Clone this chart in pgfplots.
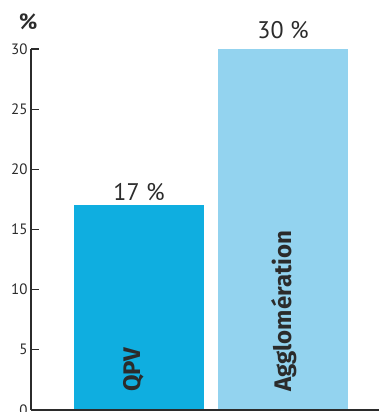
\documentclass[border=0pt]{standalone}
\usepackage{pgfplots}
\pgfplotsset{compat=1.18}
\usepackage{fontspec}
\setmainfont{PT Sans}
\newfontfamily\barfont{Fira Sans}[BoldFont={Fira Sans Bold}]
\definecolor{qpv}{HTML}{0FAEE0}
\definecolor{agglo}{HTML}{93D3EF}
\definecolor{ink}{HTML}{2B2B2B}
\tikzset{bar label/.style={rotate=90, anchor=west, inner sep=0pt, font=\barfont\bfseries\fontsize{24}{24}\selectfont, text=ink}}
\begin{document}
\begin{tikzpicture}
\path[use as bounding box] (-31pt,-2pt) rectangle (348pt,410pt);
\clip (-31pt,-2pt) rectangle (348pt,410pt);
\begin{axis}[
  at={(0,0)}, anchor=south west,
  scale only axis, width=348pt, height=361pt,
  xmin=0.25, xmax=2.6667, ymin=0, ymax=30,
  axis x line=bottom, axis y line=left,
  axis line style={-, ink, line width=1.5pt},
  axis on top,
  xtick=\empty, ytick={0,5,...,30},
  tick align=inside,
  major tick length=8pt,
  tick style={ink, line width=1.3pt},
  yticklabel style={font=\fontsize{15}{15}\selectfont, text=ink},
  /pgf/number format/assume math mode=true,
  ybar, bar width=130pt, bar shift=0pt,
  nodes near coords={\pgfmathprintnumber{\pgfplotspointmeta}~\%},
  every node near coord/.append style={font=\fontsize{24}{24}\selectfont, text=ink, inner sep=0pt, anchor=south},
  clip=false,
]
\addplot[fill=qpv, draw=none, every node near coord/.append style={yshift=4pt}] coordinates {(1,17)};
\addplot[fill=agglo, draw=none, every node near coord/.append style={yshift=10pt}] coordinates {(2,30)};
\node[font=\bfseries\fontsize{22}{22}\selectfont, text=ink] at (rel axis cs:0,1) [xshift=-3pt, yshift=27pt] {\%};
\node[bar label] at (axis cs:0.965,1.5) {QPV};
\node[bar label] at (axis cs:2.01,1.5) {Agglomération};
\end{axis}
\end{tikzpicture}
\end{document}
